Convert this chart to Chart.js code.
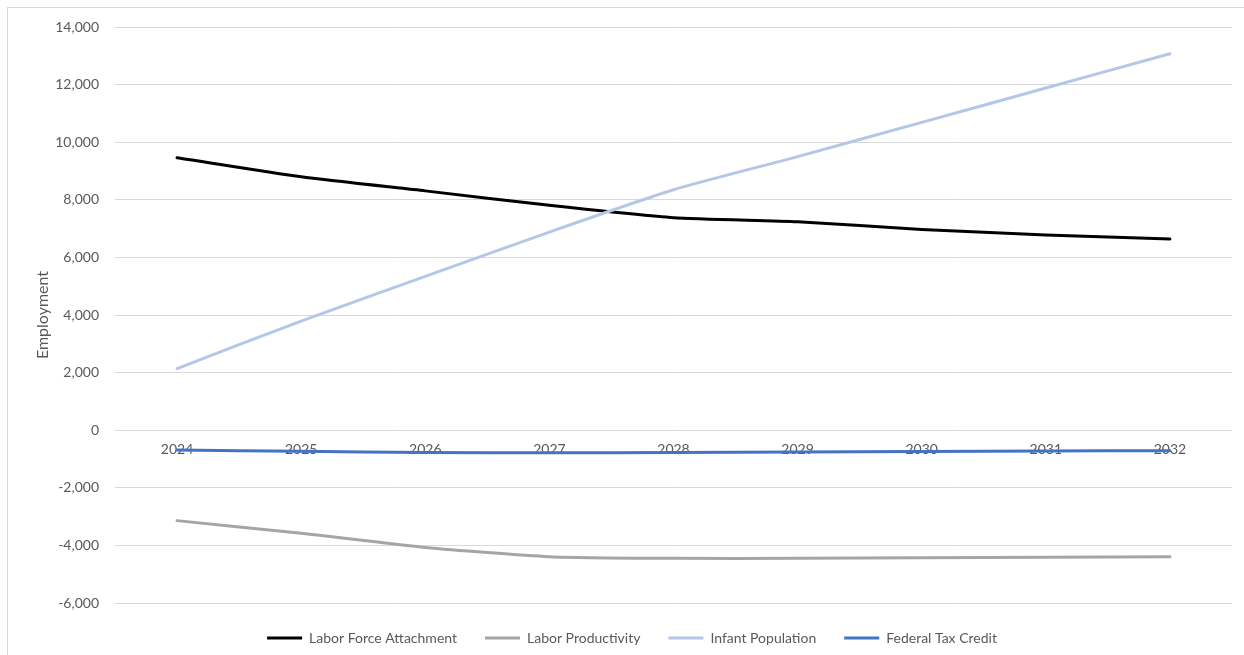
<!DOCTYPE html>
<html lang="en">
<head>
  <meta charset="UTF-8">
  <title>Employment by Scenario</title>
  <script src="https://cdn.jsdelivr.net/npm/chart.js"></script>
  <style>
    html, body {
      margin: 0;
      padding: 0;
      background: #fff;
      overflow: hidden;
    }
    .frame {
      position: absolute;
      left: 7px;
      top: 7px;
      width: 1300px;
      height: 700px;
      border: 1px solid #d9d9d9;
    }
    .wrap {
      position: absolute;
      left: 0;
      top: 0;
      width: 1244px;
      height: 655px;
    }
  </style>
</head>
<body>
  <div class="frame"></div>
  <div class="wrap">
    <canvas id="empChart"></canvas>
  </div>

<script>
  const years = ['2024', '2025', '2026', '2027', '2028', '2029', '2030', '2031', '2032'];

  const laborForceAttachment = [9460, 8800, 8310, 7810, 7380, 7240, 6970, 6780, 6640];
  const laborProductivity = [-3140, -3580, -4070, -4390, -4450, -4450, -4430, -4410, -4390];
  const infantPopulation = [2140, 3790, 5340, 6880, 8350, 9500, 10690, 11880, 13070];
  const federalTaxCredit = [-690, -730, -775, -785, -775, -760, -740, -725, -710];

  const yMin = -6000;
  const yMax = 14000;
  const yStep = 2000;

  const textColor = '#595959';
  const gridColor = '#d9d9d9';

  function line(label, values, color, order) {
    return {
      label: label,
      data: values,
      borderColor: color,
      backgroundColor: color,
      borderWidth: 3,
      borderCapStyle: 'round',
      pointRadius: 0,
      pointHoverRadius: 0,
      tension: 0.2,
      fill: false,
      order: order
    };
  }

  const ctx = document.getElementById('empChart').getContext('2d');

  const empChart = new Chart(ctx, {
    type: 'line',
    data: {
      labels: years,
      datasets: [
        line('Labor Force Attachment', laborForceAttachment, '#000000', 4),
        line('Labor Productivity', laborProductivity, '#a5a5a5', 3),
        line('Infant Population', infantPopulation, '#b4c7e7', 2),
        line('Federal Tax Credit', federalTaxCredit, '#4472c4', 1)
      ]
    },
    options: {
      responsive: true,
      maintainAspectRatio: false,
      animation: false,
      layout: {
        padding: { left: 32, right: 12, top: 27, bottom: 0 }
      },
      scales: {
        x: {
          type: 'category',
          offset: true,
          position: { y: 0 },
          grid: { display: false, drawTicks: false },
          border: { display: false },
          ticks: {
            color: textColor,
            font: { family: 'Lato', size: 14 },
            padding: 11,
            autoSkip: false,
            maxRotation: 0
          }
        },
        y: {
          min: yMin,
          max: yMax,
          afterFit: (scale) => { scale.width = 83; },
          grid: { color: gridColor, lineWidth: 1, drawTicks: false },
          border: { display: false },
          ticks: {
            stepSize: yStep,
            color: textColor,
            font: { family: 'Lato', size: 14 },
            padding: 16,
            callback: (v) => Number(v).toLocaleString('en-US')
          },
          title: {
            display: true,
            text: 'Employment',
            color: textColor,
            font: { family: 'Lato', size: 16 },
            padding: { top: 1, bottom: 0 }
          }
        }
      },
      plugins: {
        legend: {
          position: 'bottom',
          labels: {
            usePointStyle: true,
            pointStyle: 'line',
            pointStyleWidth: 35,
            padding: 28,
            color: textColor,
            font: { family: 'Lato', size: 14 },
            sort: (a, b) => a.datasetIndex - b.datasetIndex
          }
        },
        tooltip: { enabled: false }
      }
    }
  });
</script>
</body>
</html>
